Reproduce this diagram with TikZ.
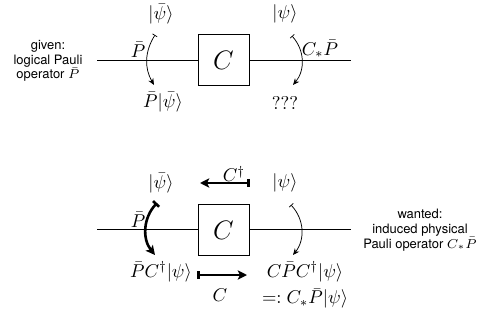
\documentclass[tikz,border=0pt]{standalone}
\usepackage{amsmath}
\usepackage{fontspec}
\setsansfont{TeX Gyre Heros}
\usetikzlibrary{arrows.meta}

\tikzset{
    gate/.style={draw, line width=0.5pt, minimum size=27.5pt, inner sep=0pt, font=\Large},
    wire/.style={line width=0.5pt},
    note/.style={font=\sffamily\scriptsize, align=center},
    thinmap/.style={line width=0.4pt, {Bar[width=3pt]}-{Stealth[length=3.5pt,width=3pt]}},
    thickmap/.style={line width=1.4pt, {Bar[width=4.5pt]}-{Stealth[length=5pt,width=5pt,inset=1.2pt]}}
}

\begin{document}
\begin{tikzpicture}[x=0.54pt,y=0.54pt,every node/.append style={inner sep=0.5pt}]
    \useasboundingbox (0,0) rectangle (482,-320);

    % Top: given logical Pauli
    \draw[wire] (97,-60) -- (351,-60);
    \node[gate,fill=white] (Ctop) at (223.5,-60) {$C$};
    \node[note] (given) at (48,-61) {given:\\logical Pauli\\operator $\bar P$};

    \node (psibarT) at (161,-14) {$|\bar\psi\rangle$};
    \node (psiT) at (285,-14) {$|\psi\rangle$};
    \node (PpsibarT) at (163,-102) {$\bar P|\bar\psi\rangle$};
    \node (unknownT) at (285,-103) {???};

    \coordinate (aT) at (155,-35);
    \coordinate (bT) at (154,-85);
    \coordinate (cT) at (292,-36);
    \coordinate (dT) at (293,-85);
    \draw[thinmap] (aT) to[bend right=31] (bT);
    \draw[thinmap] (cT) to[bend left=41] (dT);
    \node (PbarT) at (138,-50) {$\bar P$};
    \node (CPbarT) at (320,-49) {$C_*\bar P$};

    % Bottom: wanted physical Pauli
    \draw[wire] (97,-229) -- (351,-229);
    \node[gate,fill=white] (Cbot) at (223.5,-230) {$C$};
    \node[note] (wanted) at (420,-230) {wanted:\\induced physical\\Pauli operator $C_*\bar P$};

    \node (psibarB) at (161,-183) {$|\bar\psi\rangle$};
    \node (psiB) at (285,-183) {$|\psi\rangle$};
    \node (PCpsi) at (161,-272) {$\bar P C^\dagger|\psi\rangle$};
    \node[align=center] (CPCpsi) at (305,-285) {$C\bar P C^\dagger|\psi\rangle$\\[2.5pt]$=: C_*\bar P|\psi\rangle$};

    \coordinate (aB) at (157,-203);
    \coordinate (bB) at (155,-255);
    \coordinate (cB) at (291,-205);
    \coordinate (dB) at (293,-255);
    \draw[thickmap] (aB) to[bend right=41] (bB);
    \draw[thinmap] (cB) to[bend left=41] (dB);
    \node (PbarB) at (138,-220) {$\bar P$};

    \coordinate (daggerFrom) at (250,-183);
    \coordinate (daggerTo) at (200,-183);
    \draw[thickmap] (daggerFrom) -- (daggerTo);
    \node (Cdag) at (234,-174) {$C^\dagger$};

    \coordinate (fwdFrom) at (197,-275);
    \coordinate (fwdTo) at (247,-275);
    \draw[thickmap] (fwdFrom) -- (fwdTo);
    \node (Cfwd) at (220,-295) {$C$};
\end{tikzpicture}
\end{document}
